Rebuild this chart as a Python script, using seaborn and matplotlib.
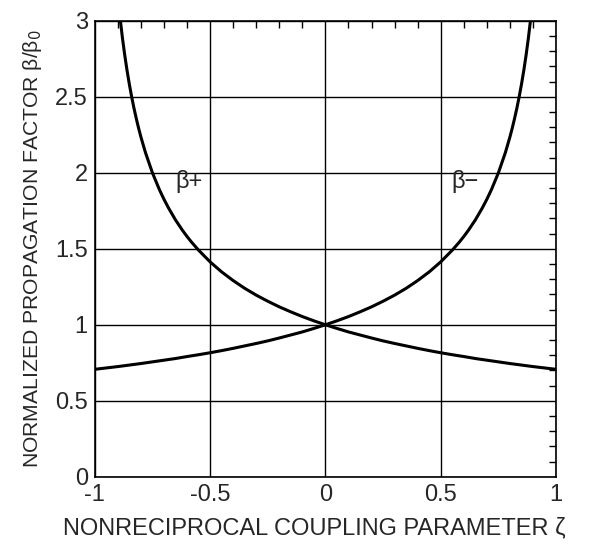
import matplotlib
matplotlib.use("Agg")
import matplotlib.pyplot as plt
import seaborn as sns
import pandas as pd
from matplotlib.ticker import MultipleLocator

# values
zeta_plus = [-0.89, -0.88, -0.87, -0.86, -0.85, -0.84, -0.83, -0.82, -0.81, -0.80,
             -0.78, -0.75, -0.72, -0.70, -0.68, -0.65, -0.62, -0.60, -0.58, -0.55,
             -0.50, -0.45, -0.40, -0.35, -0.30, -0.25, -0.20, -0.15, -0.10, -0.05,
             0.00, 0.05, 0.10, 0.15, 0.20, 0.25, 0.30, 0.35, 0.40, 0.45,
             0.50, 0.55, 0.60, 0.65, 0.70, 0.75, 0.80, 0.85, 0.90, 0.95, 1.00]
beta_plus = [3.015, 2.887, 2.774, 2.673, 2.582, 2.500, 2.425, 2.357, 2.294, 2.236,
             2.132, 2.000, 1.890, 1.826, 1.768, 1.690, 1.622, 1.581, 1.543, 1.491,
             1.414, 1.348, 1.291, 1.240, 1.195, 1.155, 1.118, 1.085, 1.054, 1.026,
             1.000, 0.976, 0.953, 0.933, 0.913, 0.894, 0.877, 0.861, 0.845, 0.830,
             0.816, 0.803, 0.791, 0.778, 0.767, 0.756, 0.745, 0.735, 0.725, 0.716, 0.707]
zeta_minus = [-1.00, -0.95, -0.90, -0.85, -0.80, -0.75, -0.70, -0.65, -0.60, -0.55,
              -0.50, -0.45, -0.40, -0.35, -0.30, -0.25, -0.20, -0.15, -0.10, -0.05,
              0.00, 0.05, 0.10, 0.15, 0.20, 0.25, 0.30, 0.35, 0.40, 0.45,
              0.50, 0.55, 0.58, 0.60, 0.62, 0.65, 0.68, 0.70, 0.72, 0.75,
              0.78, 0.80, 0.81, 0.82, 0.83, 0.84, 0.85, 0.86, 0.87, 0.88, 0.89]
beta_minus = [0.707, 0.716, 0.725, 0.735, 0.745, 0.756, 0.767, 0.778, 0.791, 0.803,
              0.816, 0.830, 0.845, 0.861, 0.877, 0.894, 0.913, 0.933, 0.953, 0.976,
              1.000, 1.026, 1.054, 1.085, 1.118, 1.155, 1.195, 1.240, 1.291, 1.348,
              1.414, 1.491, 1.543, 1.581, 1.622, 1.690, 1.768, 1.826, 1.890, 2.000,
              2.132, 2.236, 2.294, 2.357, 2.425, 2.500, 2.582, 2.673, 2.774, 2.887, 3.015]

df = pd.concat([
    pd.DataFrame({"zeta": zeta_plus, "beta": beta_plus, "branch": "β+"}),
    pd.DataFrame({"zeta": zeta_minus, "beta": beta_minus, "branch": "β−"}),
])

sns.set_style("white")
plt.rcParams["font.family"] = ["Liberation Sans", "DejaVu Sans"]

fig = plt.figure(figsize=(5.96, 5.48), dpi=100)
ax = fig.add_axes([0.159, 0.130, 0.774, 0.832])

sns.lineplot(data=df, x="zeta", y="beta", units="branch", estimator=None,
             color="black", linewidth=2.2, sort=False, ax=ax)

ax.set_xlim(-1, 1)
ax.set_ylim(0, 3)
ax.xaxis.set_minor_locator(MultipleLocator(0.1))
ax.yaxis.set_minor_locator(MultipleLocator(0.1))
ax.set_xticks([-1, -0.5, 0, 0.5, 1])
ax.set_xticklabels(["-1", "-0.5", "0", "0.5", "1"])
ax.set_yticks([0, 0.5, 1, 1.5, 2, 2.5, 3])
ax.set_yticklabels(["0", "0.5", "1", "1.5", "2", "2.5", "3"])
ax.grid(True, which="major", color="black", linewidth=1)
ax.tick_params(which="both", direction="in", top=True, right=True,
               labelsize=17, color="black", width=1)
ax.tick_params(which="major", length=0, pad=5)
ax.tick_params(which="minor", length=5)
for s in ax.spines.values():
    s.set_color("black")
    s.set_linewidth(1.2)

ax.text(-0.65, 1.94, "β+", fontsize=17, va="center", ha="left")
ax.text(0.545, 1.94, "β−", fontsize=17, va="center", ha="left")

ax.set_xlabel("")
fig.text(0.527, 0.036, "NONRECIPROCAL COUPLING PARAMETER ζ", fontsize=17,
         ha="center", va="center")
ax.set_ylabel("NORMALIZED PROPAGATION FACTOR β/β$_0$", fontsize=15.2, labelpad=8)

fig.savefig("out.png", dpi=100, facecolor="white")
